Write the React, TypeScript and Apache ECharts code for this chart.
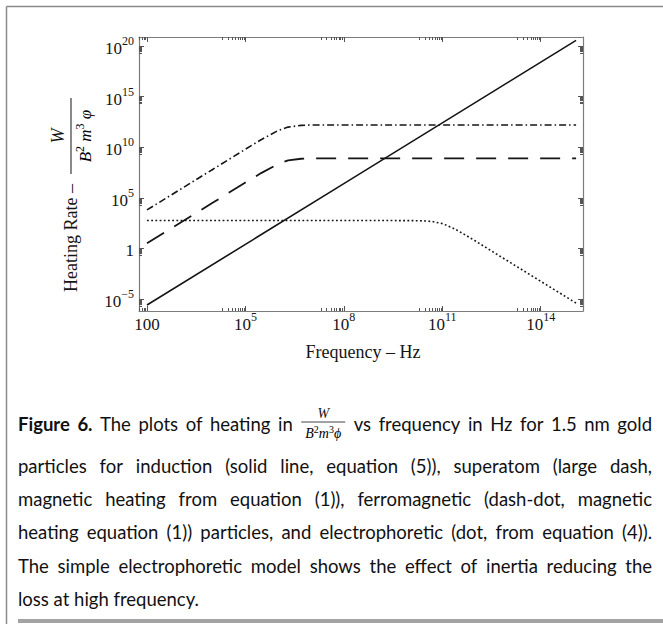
import React, { useEffect, useRef } from 'react';
import * as echarts from 'echarts';

// ---- data ----
// frequency in Hz, heating rate in W/(B^2 m^3 phi)
const inductionFreq = [1e2, 1e8, 1.2e15];
const inductionRate = [2.5e-6, 2.5e6, 3.6e20];

const superatomFreq = [1e2, 1e4, 1e5, 3e5, 1e6, 2e6, 5e6, 1e7, 1e8, 1.2e15];
const superatomRate = [3.2, 3.2e4, 3.2e6, 2.75e7, 2.25e8, 4.9e8, 7.2e8, 7.8e8, 7.9e8, 7.9e8];

const ferroFreq = [1e2, 1e4, 1e5, 3e5, 1e6, 2e6, 5e6, 1e7, 1e8, 1.2e15];
const ferroRate = [6.3e3, 6.3e7, 6.3e9, 5.5e10, 4.5e11, 9.7e11, 1.44e12, 1.55e12, 1.58e12, 1.58e12];

const electroFreq = [1e2, 1e9, 1e10, 3e10, 5e10, 1e11, 2e11, 3e11, 5e11, 1e12, 3e12, 1e13, 1e14, 1.2e15];
const electroRate = [560, 560, 557, 515, 450, 280, 112, 56, 21.6, 5.6, 0.62, 0.056, 5.6e-4, 3.9e-6];

// tick labels (decades)
const xTickDecades = [2, 5, 8, 11, 14];
const yTickDecades = [-5, 0, 5, 10, 15, 20];

const xAxisTitle = 'Frequency – Hz';
const yAxisTitle = 'Heating Rate –';

const captionLines = [
  '**Figure** **6.** The plots of heating in {FRAC} vs frequency in Hz for 1.5 nm gold',
  'particles for induction (solid line, equation (5)), superatom (large dash,',
  'magnetic heating from equation (1)), ferromagnetic (dash-dot, magnetic',
  'heating equation (1)) particles, and electrophoretic (dot, from equation (4)).',
  'The simple electrophoretic model shows the effect of inertia reducing the',
  'loss at high frequency.',
];

// ---- layout constants ----
const X_MIN = 1.756;
const X_MAX = 15.29;
const Y_MIN = -6.19;
const Y_MAX = 20.89;
const SERIF = '"Liberation Serif", "Times New Roman", serif';
const INK = '#151515';
const FRAME = '#7c7c7c';

const minorOf = (majors: number[]) => {
  const out: number[] = [];
  majors.forEach((n) => {
    for (let k = 2; k <= 9; k++) out.push(n - 1 + Math.log10(k));
  });
  return out;
};

const pairs = (f: number[], r: number[]) => f.map((v, i) => [Math.log10(v), Math.log10(r[i])]);

const rich = {
  b: { fontFamily: SERIF, fontSize: 17, lineHeight: 22, verticalAlign: 'bottom', color: INK },
  s: { fontFamily: SERIF, fontSize: 12, lineHeight: 18, verticalAlign: 'top', color: INK },
};

function buildCaption(): any[] {
  const canvas = document.createElement('canvas');
  const ctx = canvas.getContext('2d')!;
  const size = 18.5;
  const fontOf = (bold: boolean) => `${bold ? 'bold ' : ''}${size}px Lato`;
  const measure = (t: string, bold: boolean) => {
    ctx.font = fontOf(bold);
    return ctx.measureText(t).width;
  };
  const X0 = 18;
  const X1 = 652;
  const ys = [424, 466, 499, 532, 566, 599];
  const FRAC_W = 46;
  const els: any[] = [];
  captionLines.forEach((line, li) => {
    const toks = line.split(' ').map((w) => {
      if (w === '{FRAC}') return { text: '', bold: false, frac: true, w: FRAC_W };
      const bold = w.startsWith('**');
      const t = bold ? w.replace(/\*\*/g, '') : w;
      return { text: t, bold, frac: false, w: measure(t, bold) };
    });
    const total = toks.reduce((a, t) => a + t.w, 0);
    const last = li === captionLines.length - 1;
    const gap = last ? measure(' ', false) : (X1 - X0 - total) / (toks.length - 1);
    let x = X0;
    const y = ys[li];
    toks.forEach((t) => {
      if (t.frac) {
        const cx = x + FRAC_W / 2;
        els.push({
          type: 'line',
          shape: { x1: x + 1, y1: y - 2, x2: x + FRAC_W - 1, y2: y - 2 },
          style: { stroke: INK, lineWidth: 0.8 },
        });
        els.push({
          type: 'text', x: cx, y: y - 11,
          style: { text: 'W', font: `italic 14px ${SERIF}`, fill: INK, align: 'center', verticalAlign: 'middle', textAlign: 'center', textVerticalAlign: 'middle' },
        });
        els.push({
          type: 'text', x: cx, y: y + 8,
          style: {
            text: '{i|B}{s|2}{i|m}{s|3}{i|ϕ}',
            rich: {
              i: { fontFamily: SERIF, fontStyle: 'italic', fontSize: 14, lineHeight: 16, verticalAlign: 'bottom', color: INK },
              s: { fontFamily: SERIF, fontSize: 10, lineHeight: 13, verticalAlign: 'top', color: INK },
            },
            align: 'center', verticalAlign: 'middle', textAlign: 'center', textVerticalAlign: 'middle',
          },
        });
      } else {
        els.push({
          type: 'text', x, y,
          style: { text: t.text, font: fontOf(t.bold), fill: '#111', align: 'left', verticalAlign: 'middle', textAlign: 'left', textVerticalAlign: 'middle' },
        });
      }
      x += t.w + gap;
    });
  });
  return els;
}

export default function App() {
  const ref = useRef<HTMLDivElement>(null);
  useEffect(() => {
    const chart = echarts.init(ref.current!, null, { renderer: 'svg' });

    const xMinor = minorOf(xTickDecades);
    const yMinor = minorOf(yTickDecades);

    const baseX = {
      type: 'value', min: X_MIN, max: X_MAX, splitLine: { show: false },
    };
    const baseY = {
      type: 'value', min: Y_MIN, max: Y_MAX, splitLine: { show: false },
    };
    const lineOn = { show: true, onZero: false, lineStyle: { color: FRAME, width: 1.2 } };
    const noLine = { show: false, onZero: false };
    const noLabel = { show: false };
    const tick = (vals: number[], len: number) => ({
      show: true, inside: true, length: len, customValues: vals,
      lineStyle: { color: '#555', width: 1 },
    });

    const xAxis = [
      {
        ...baseX, position: 'bottom', axisLine: lineOn, axisTick: tick(xTickDecades, 5),
        axisLabel: {
          show: true, customValues: xTickDecades, margin: 0, rich,
          formatter: (v: number) => (v === 2 ? '{b|100}' : `{b|10}{s|${v}}`),
        },
      },
      { ...baseX, position: 'bottom', axisLine: noLine, axisTick: tick(xMinor, 3), axisLabel: noLabel },
      { ...baseX, position: 'top', axisLine: lineOn, axisTick: tick(xTickDecades, 5), axisLabel: noLabel },
      { ...baseX, position: 'top', axisLine: noLine, axisTick: tick(xMinor, 3), axisLabel: noLabel },
    ];
    const yAxis = [
      {
        ...baseY, position: 'left', axisLine: lineOn, axisTick: tick(yTickDecades, 5),
        axisLabel: {
          show: true, customValues: yTickDecades, margin: 5, rich,
          formatter: (v: number) => (v === 0 ? '{b|1}' : `{b|10}{s|${v < 0 ? '−' + -v : v}}`),
        },
      },
      { ...baseY, position: 'left', axisLine: noLine, axisTick: tick(yMinor, 3), axisLabel: noLabel },
      { ...baseY, position: 'right', axisLine: lineOn, axisTick: tick(yTickDecades, 5), axisLabel: noLabel },
      { ...baseY, position: 'right', axisLine: noLine, axisTick: tick(yMinor, 3), axisLabel: noLabel },
    ];

    const mk = (name: string, data: number[][], width: number, type: any) => ({
      name, type: 'line', data, symbol: 'none', showSymbol: false, silent: true,
      xAxisIndex: 0, yAxisIndex: 0,
      lineStyle: { color: INK, width, type, cap: 'butt' },
    });

    const option: any = {
      animation: false,
      backgroundColor: '#ffffff',
      textStyle: { fontFamily: SERIF },
      grid: { left: 139, right: 80, top: 37, bottom: 313, containLabel: false, outerBoundsMode: 'none' },
      xAxis,
      yAxis,
      series: [
        mk('induction', pairs(inductionFreq, inductionRate), 1.6, 'solid'),
        mk('superatom', pairs(superatomFreq, superatomRate), 1.8, [20, 12]),
        mk('ferromagnetic', pairs(ferroFreq, ferroRate), 1.6, [7, 3, 1.5, 3]),
        mk('electrophoretic', pairs(electroFreq, electroRate), 1.6, [1.8, 2.4]),
      ],
      graphic: [
        { type: 'line', shape: { x1: 6.5, y1: 6.5, x2: 663, y2: 6.5 }, style: { stroke: '#8a8a8a', lineWidth: 1.5 } },
        { type: 'line', shape: { x1: 6.5, y1: 6.5, x2: 6.5, y2: 624 }, style: { stroke: '#8a8a8a', lineWidth: 1.5 } },
        { type: 'rect', shape: { x: 18, y: 619, width: 645, height: 4 }, style: { fill: '#a3a3a3' } },
        {
          type: 'text', x: 363, y: 352,
          style: { text: xAxisTitle, font: `18px ${SERIF}`, fill: INK, align: 'center', verticalAlign: 'middle', textAlign: 'center', textVerticalAlign: 'middle' },
        },
        {
          type: 'group', x: 71, y: 292, rotation: Math.PI / 2,
          children: [
            {
              type: 'text', x: 0, y: 0,
              style: { text: yAxisTitle, font: `18px ${SERIF}`, fill: INK, align: 'left', verticalAlign: 'middle', textAlign: 'left', textVerticalAlign: 'middle' },
            },
            { type: 'line', shape: { x1: 118, y1: 0, x2: 194, y2: 0 }, style: { stroke: INK, lineWidth: 1 } },
            {
              type: 'text', x: 156, y: -13,
              style: { text: 'W', font: `italic 18px ${SERIF}`, fill: INK, align: 'center', verticalAlign: 'middle', textAlign: 'center', textVerticalAlign: 'middle' },
            },
            {
              type: 'text', x: 156, y: 13,
              style: {
                text: '{i|B}{s|2}{i| m}{s|3}{i| φ}',
                rich: {
                  i: { fontFamily: SERIF, fontStyle: 'italic', fontSize: 17, lineHeight: 20, verticalAlign: 'bottom', color: INK },
                  s: { fontFamily: SERIF, fontSize: 12, lineHeight: 16, verticalAlign: 'top', color: INK },
                },
                align: 'center', verticalAlign: 'middle', textAlign: 'center', textVerticalAlign: 'middle',
              },
            },
          ],
        },
        ...buildCaption(),
      ],
    };
    chart.setOption(option);
    return () => chart.dispose();
  }, []);
  return <div ref={ref} style={{ position: 'absolute', left: 0, top: 0, width: 663, height: 624 }} />;
}
